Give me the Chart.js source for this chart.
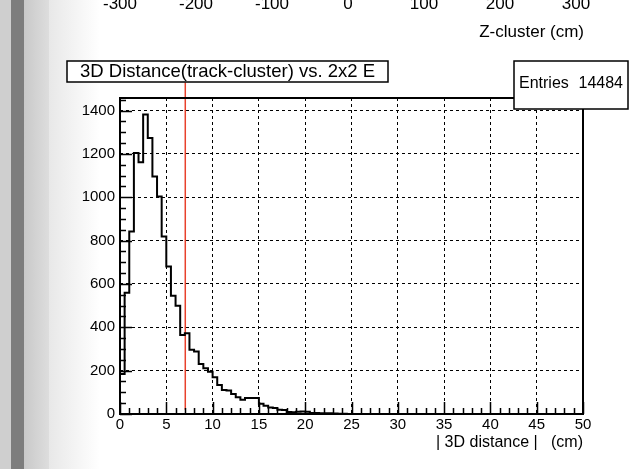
<!DOCTYPE html>
<html>
<head>
<meta charset="utf-8">
<style>
html,body{margin:0;padding:0;background:#fff;}
#wrap{width:634px;height:469px;position:relative;}
</style>
<script src="https://cdn.jsdelivr.net/npm/chart.js@4.4.0/dist/chart.umd.min.js"></script>
</head>
<body>
<div id="wrap"><canvas id="c" width="634" height="469"></canvas></div>
<script>
// ---- data ----
const binStart = 0;
const binWidth = 0.5;
const counts = [
  185, 560, 842, 1204, 1161, 1382, 1273, 1096, 1004, 819,
  680, 546, 500, 365, 372, 297, 288, 231, 211, 195,
  169, 134, 111, 108, 92, 77, 66, 74, 74, 74,
  47, 38, 30, 28, 20, 18, 9, 8, 10, 12,
  10, 5, 5, 4, 3, 3, 2, 1, 1, 0,
  0, 0, 0, 0, 0, 0, 0, 0, 0, 0,
  0, 0, 0, 0, 0, 0, 0, 0, 0, 0,
  0, 0, 0, 0, 0, 0, 0, 0, 0, 0,
  0, 0, 0, 0, 0, 0, 0, 0, 0, 0,
  0, 0, 0, 0, 0, 0, 0, 0, 0, 0
];
const xTickValues = [0, 5, 10, 15, 20, 25, 30, 35, 40, 45, 50];
const yTickValues = [0, 200, 400, 600, 800, 1000, 1200, 1400];
const topAxisLabels = ['-300', '-200', '-100', '0', '100', '200', '300'];
const topAxisTitle = 'Z-cluster (cm)';
const histTitle = '3D Distance(track-cluster) vs. 2x2 E';
const statsLabel = 'Entries';
const statsValue = '14484';
const xAxisTitle = '| 3D distance |   (cm)';
const cutValue = 7.05;

// ---- build step points from bins ----
const histPoints = [{x: binStart, y: 0}];
counts.forEach((v, i) => histPoints.push({x: binStart + i * binWidth, y: v}));
histPoints.push({x: binStart + counts.length * binWidth, y: 0});

const FONT = "'Liberation Sans', Arial, Helvetica, sans-serif";

const decor = {
  id: 'decor',
  beforeDraw(chart) {
    const ctx = chart.ctx;
    const W = chart.width, H = chart.height;
    ctx.save();
    ctx.fillStyle = '#ffffff';
    ctx.fillRect(0, 0, W, H);
    ctx.fillStyle = '#cfcfcf';
    ctx.fillRect(0, 0, 11, H);
    ctx.fillStyle = '#7d7d7d';
    ctx.fillRect(11, 0, 13, H);
    let g = ctx.createLinearGradient(24, 0, 49, 0);
    g.addColorStop(0, '#c9c9c9');
    g.addColorStop(1, '#dddddd');
    ctx.fillStyle = g;
    ctx.fillRect(24, 0, 25, H);
    g = ctx.createLinearGradient(49, 0, 100, 0);
    g.addColorStop(0, '#e8e8e8');
    g.addColorStop(1, '#ffffff');
    ctx.fillStyle = g;
    ctx.fillRect(49, 0, 51, H);
    ctx.restore();
  },
  afterDraw(chart) {
    const ctx = chart.ctx;
    const a = chart.chartArea;
    const xs = chart.scales.x, ys = chart.scales.y;
    ctx.save();
    // ticks (inside, ROOT style)
    ctx.strokeStyle = '#000';
    ctx.lineWidth = 1.5;
    ctx.beginPath();
    for (let v = xs.min; v <= xs.max + 1e-9; v += 1) {
      const px = Math.round(xs.getPixelForValue(v)) + 0.5;
      const len = (Math.round(v) % 5 === 0) ? 12 : 6;
      ctx.moveTo(px, a.bottom);
      ctx.lineTo(px, a.bottom - len);
    }
    for (let v = 0; v <= ys.max + 1e-9; v += 50) {
      const py = Math.round(ys.getPixelForValue(v)) + 0.5;
      const len = (v % 200 === 0) ? 12 : 6;
      ctx.moveTo(a.left, py);
      ctx.lineTo(a.left + len, py);
    }
    ctx.stroke();
    // frame
    ctx.lineWidth = 2;
    ctx.strokeRect(a.left, a.top, a.right - a.left, a.bottom - a.top);

    // x axis title
    ctx.fillStyle = '#000';
    ctx.font = '16px ' + FONT;
    ctx.textAlign = 'right';
    ctx.textBaseline = 'middle';
    ctx.fillText(xAxisTitle, a.right, 443);

    // top axis remnants (cut off at top of picture)
    ctx.font = '17px ' + FONT;
    ctx.textAlign = 'center';
    ctx.textBaseline = 'alphabetic';
    topAxisLabels.forEach((t, i) => ctx.fillText(t, 120 + 76 * i, 9));
    ctx.textAlign = 'right';
    ctx.textBaseline = 'middle';
    ctx.fillText(topAxisTitle, 584, 32);

    // title box
    ctx.fillStyle = '#fff';
    ctx.fillRect(67, 61, 321, 21);
    ctx.lineWidth = 1.5;
    ctx.strokeStyle = '#000';
    ctx.strokeRect(67, 61, 321, 21);
    ctx.fillStyle = '#000';
    ctx.font = '18.5px ' + FONT;
    ctx.textAlign = 'left';
    ctx.fillText(histTitle, 80, 72);

    // stats box
    ctx.fillStyle = '#fff';
    ctx.fillRect(514, 61, 114, 48);
    ctx.strokeRect(514, 61, 114, 48);
    ctx.fillStyle = '#000';
    ctx.font = '16px ' + FONT;
    ctx.textAlign = 'left';
    ctx.fillText(statsLabel, 519, 84);
    ctx.textAlign = 'right';
    ctx.fillText(statsValue, 623, 84);
    ctx.restore();
  }
};

new Chart(document.getElementById('c'), {
  type: 'line',
  data: {
    datasets: [
      {
        label: 'hist',
        data: histPoints,
        stepped: true,
        borderColor: '#000',
        borderWidth: 2,
        pointRadius: 0,
        fill: false,
        tension: 0
      },
      {
        label: 'cut',
        data: [{x: cutValue, y: 20}, {x: cutValue, y: 1530}],
        borderColor: '#e8412c',
        borderWidth: 1.5,
        pointRadius: 0,
        fill: false,
        clip: false
      }
    ]
  },
  plugins: [decor],
  options: {
    responsive: false,
    animation: false,
    devicePixelRatio: 1,
    layout: {padding: {left: 0, top: 98, right: 51, bottom: 0}},
    plugins: {legend: {display: false}, tooltip: {enabled: false}, title: {display: false}},
    scales: {
      x: {
        type: 'linear',
        min: 0,
        max: 50,
        afterFit(s) { s.height = 55; },
        afterBuildTicks(s) { s.ticks = xTickValues.map(v => ({value: v})); },
        grid: {color: '#000', lineWidth: 1, drawTicks: false},
        border: {display: false, dash: [3, 3]},
        ticks: {color: '#000', font: {family: FONT, size: 15}, padding: 2, maxRotation: 0, autoSkip: false,
                callback: v => String(v)}
      },
      y: {
        type: 'linear',
        min: 0,
        max: 1458,
        afterFit(s) { s.width = 120; },
        afterBuildTicks(s) { s.ticks = yTickValues.map(v => ({value: v})); },
        grid: {color: '#000', lineWidth: 1, drawTicks: false},
        border: {display: false, dash: [3, 3]},
        ticks: {color: '#000', font: {family: FONT, size: 15}, padding: 5, autoSkip: false,
                callback: v => String(v)}
      }
    }
  }
});
</script>
</body>
</html>
